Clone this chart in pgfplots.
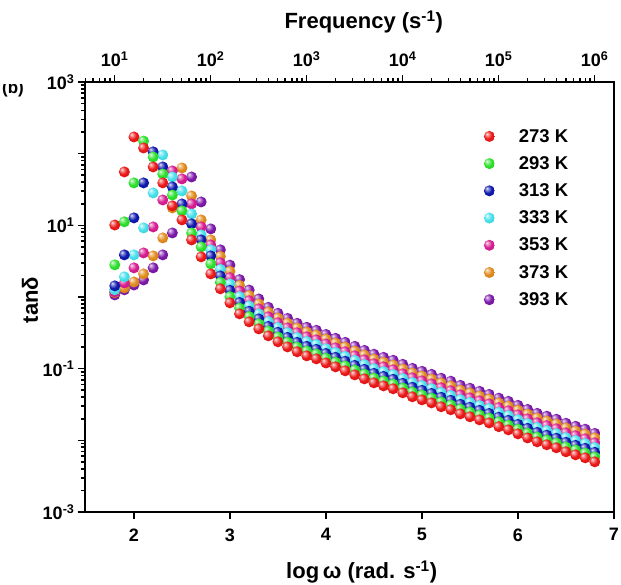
\documentclass[border=0pt]{standalone}
\usepackage{fontspec}
\setmainfont{Liberation Sans}
\usepackage{pgfplots}
\usepackage{pgfplotstable}
\pgfplotsset{compat=1.18}
\definecolor{cR}{RGB}{235,25,25}
\definecolor{cG}{RGB}{45,225,45}
\definecolor{cB}{RGB}{15,25,175}
\definecolor{cC}{RGB}{70,225,235}
\definecolor{cM}{RGB}{215,30,145}
\definecolor{cO}{RGB}{225,140,30}
\definecolor{cP}{RGB}{125,25,170}
\colorlet{ballc}{red}
\pgfdeclareradialshading[ballc]{shinyball}{\pgfqpoint{-12bp}{12bp}}{color(0bp)=(ballc!10!white); color(6bp)=(ballc!45!white); color(18bp)=(ballc); color(38bp)=(ballc!88!black); color(50bp)=(ballc!65!black)}
\newcommand\ballmark[2]{\pgfdeclareplotmark{#1}{\colorlet{ballc}{#2}\pgfpathcircle{\pgfpointorigin}{\pgfplotmarksize}\pgfshadepath{shinyball}{0}\pgfusepath{discard}}}
\ballmark{bR}{cR}
\ballmark{bG}{cG}
\ballmark{bB}{cB}
\ballmark{bC}{cC}
\ballmark{bM}{cM}
\ballmark{bO}{cO}
\ballmark{bP}{cP}
\pgfplotstableread{
x r g b c m o p
1.8 10.1 2.81 1.43 1.26 1.18 1.15 1.07
1.9 55.6 11.2 3.87 1.91 1.57 1.34 1.26
2.0 171 39.1 12.7 3.87 2.55 1.62 1.47
2.1 120 150 39.1 9.20 4.12 2.10 1.73
2.2 65.3 89.9 106 28.3 9.50 3.75 2.55
2.3 39.1 52.1 65.3 95.9 22.6 6.68 3.87
2.4 18.7 26.5 34.4 47.3 57.4 17.5 7.83
2.5 11.9 15.9 19.9 30.2 44.4 63.2 19.3
2.6 6.26 7.83 10.5 14.4 19.9 25.7 47.3
2.7 3.63 5.00 6.26 7.35 9.50 11.9 21.2
2.8 2.10 2.90 3.75 4.54 5.33 6.26 8.91
2.9 1.30 1.60 1.97 2.43 3.00 3.69 4.55
3.0 0.828 1.01 1.24 1.52 1.86 2.28 2.78
3.1 0.582 0.699 0.839 1.01 1.21 1.45 1.75
3.2 0.450 0.533 0.632 0.749 0.887 1.05 1.25
3.3 0.359 0.421 0.495 0.581 0.682 0.801 0.940
3.4 0.287 0.334 0.389 0.454 0.529 0.616 0.718
3.5 0.237 0.276 0.322 0.375 0.437 0.509 0.593
3.6 0.201 0.234 0.273 0.318 0.370 0.431 0.503
3.7 0.172 0.200 0.233 0.272 0.317 0.369 0.430
3.8 0.151 0.176 0.205 0.239 0.278 0.324 0.378
3.9 0.137 0.160 0.186 0.217 0.252 0.294 0.343
4.0 0.120 0.140 0.163 0.190 0.221 0.258 0.300
4.1 0.106 0.123 0.144 0.168 0.195 0.227 0.265
4.2 0.0933 0.109 0.127 0.148 0.172 0.200 0.233
4.3 0.0820 0.0955 0.111 0.130 0.151 0.176 0.205
4.4 0.0721 0.0840 0.0978 0.114 0.133 0.155 0.180
4.5 0.0634 0.0739 0.0860 0.100 0.117 0.136 0.159
4.6 0.0575 0.0670 0.0780 0.0909 0.106 0.123 0.144
4.7 0.0524 0.0610 0.0711 0.0828 0.0965 0.112 0.131
4.8 0.0460 0.0536 0.0624 0.0727 0.0847 0.0987 0.115
4.9 0.0405 0.0472 0.0550 0.0640 0.0746 0.0869 0.101
5.0 0.0367 0.0428 0.0498 0.0580 0.0676 0.0788 0.0918
5.1 0.0333 0.0388 0.0452 0.0526 0.0613 0.0715 0.0833
5.2 0.0294 0.0343 0.0399 0.0465 0.0542 0.0631 0.0735
5.3 0.0267 0.0311 0.0362 0.0422 0.0492 0.0573 0.0668
5.4 0.0234 0.0273 0.0318 0.0370 0.0431 0.0502 0.0585
5.5 0.0213 0.0248 0.0289 0.0337 0.0392 0.0457 0.0533
5.6 0.0193 0.0225 0.0262 0.0305 0.0356 0.0414 0.0483
5.7 0.0175 0.0204 0.0237 0.0277 0.0322 0.0376 0.0438
5.8 0.0155 0.0181 0.0210 0.0245 0.0286 0.0333 0.0388
5.9 0.0140 0.0163 0.0190 0.0221 0.0258 0.0300 0.0350
6.0 0.0123 0.0143 0.0167 0.0194 0.0227 0.0264 0.0308
6.1 0.0108 0.0126 0.0147 0.0171 0.0199 0.0232 0.0270
6.2 0.00953 0.0111 0.0129 0.0151 0.0176 0.0205 0.0238
6.3 0.00867 0.0101 0.0118 0.0137 0.0160 0.0186 0.0217
6.4 0.00787 0.00917 0.0107 0.0124 0.0145 0.0169 0.0197
6.5 0.00692 0.00806 0.00939 0.0109 0.0127 0.0149 0.0173
6.6 0.00628 0.00732 0.00852 0.00993 0.0116 0.0135 0.0157
6.7 0.00570 0.00664 0.00773 0.00901 0.0105 0.0122 0.0143
6.8 0.00501 0.00584 0.00680 0.00792 0.00923 0.0108 0.0125
}\data
\begin{document}
\begin{tikzpicture}
\useasboundingbox (-85pt,-73pt) rectangle (536pt,512pt);
\begin{scope}
\clip (-85pt,380pt) rectangle (-58pt,427pt);
\node[font=\bfseries\fontsize{17}{17}\selectfont] at (-72pt,423pt) {(b)};
\end{scope}
\begin{axis}[
  at={(0,0)}, anchor=south west,
  width=529pt, height=430pt, scale only axis,
  xmin=1.49, xmax=7, ymin=1e-3, ymax=1e3, ymode=log,
  xtick={2,3,4,5,6,7},
  ytick={1e-3,1e-2,1e-1,1,10,100,1000},
  yticklabels={10\textsuperscript{-3},,10\textsuperscript{-1},,10\textsuperscript{1},,10\textsuperscript{3}},
  minor ytick={0.002,0.003,0.004,0.005,0.006,0.007,0.008,0.009,0.02,0.03,0.04,0.05,0.06,0.07,0.08,0.09,0.2,0.3,0.4,0.5,0.6,0.7,0.8,0.9,2,3,4,5,6,7,8,9,20,30,40,50,60,70,80,90,200,300,400,500,600,700,800,900},
  xtick pos=bottom, ytick pos=left,
  tick align=outside,
  major tick length=7pt, minor tick length=4pt,
  tick style={black, line width=1.6pt},
  axis line style={line width=2.2pt},
  /pgf/number format/assume math mode=true,
  tick label style={font=\bfseries\fontsize{18}{18}\selectfont},
  xticklabel style={yshift=-6pt},
  xlabel={log\,ω (rad. s\textsuperscript{-1})},
  xlabel style={font=\bfseries\fontsize{22}{22}\selectfont, at={(axis description cs:0.523,-0.14)}, anchor=center},
  ylabel={tanδ},
  ylabel style={font=\bfseries\fontsize{22}{22}\selectfont, at={(axis description cs:-0.104,0.493)}, anchor=center},
  legend style={draw=none, fill=none, at={(0.748,0.9)}, anchor=north west,
    font=\bfseries\fontsize{18.5}{18.5}\selectfont, row sep=8.8pt,
    /tikz/every odd column/.append style={column sep=22pt}},
  legend cell align=left,
  reverse legend,
  mark size=5.5pt,
]
\addplot[only marks, mark=bP] table[x=x,y=p]{\data};
\addplot[only marks, mark=bO] table[x=x,y=o]{\data};
\addplot[only marks, mark=bM] table[x=x,y=m]{\data};
\addplot[only marks, mark=bC] table[x=x,y=c]{\data};
\addplot[only marks, mark=bB] table[x=x,y=b]{\data};
\addplot[only marks, mark=bG] table[x=x,y=g]{\data};
\addplot[only marks, mark=bR] table[x=x,y=r]{\data};
\legend{393 K,373 K,353 K,333 K,313 K,293 K,273 K}
\end{axis}
\begin{axis}[
  at={(0,0)}, anchor=south west,
  width=529pt, height=430pt, scale only axis,
  xmode=log, xmin=4.92, xmax=1.592e6, ymin=0, ymax=1,
  axis x line*=top, axis y line=none,
  xtick={10,100,1000,10000,100000,1000000},
  xticklabels={10\textsuperscript{1},10\textsuperscript{2},10\textsuperscript{3},10\textsuperscript{4},10\textsuperscript{5},10\textsuperscript{6}},
  minor xtick={5,6,7,8,9,20,30,40,50,60,70,80,90,200,300,400,500,600,700,800,900,2000,3000,4000,5000,6000,7000,8000,9000,20000,30000,40000,50000,60000,70000,80000,90000,200000,300000,400000,500000,600000,700000,800000,900000},
  tick align=outside,
  major tick length=7pt, minor tick length=4pt,
  tick style={black, line width=1.6pt},
  axis line style={line width=2.2pt},
  tick label style={font=\bfseries\fontsize{18}{18}\selectfont},
  xticklabel style={yshift=5pt},
  xlabel={Frequency (s\textsuperscript{-1})},
  xlabel style={font=\bfseries\fontsize{22}{22}\selectfont, at={(axis description cs:0.527,1.14)}, anchor=center},
]
\addplot[draw=none] coordinates {(10,0.5)};
\end{axis}
\end{tikzpicture}
\end{document}
